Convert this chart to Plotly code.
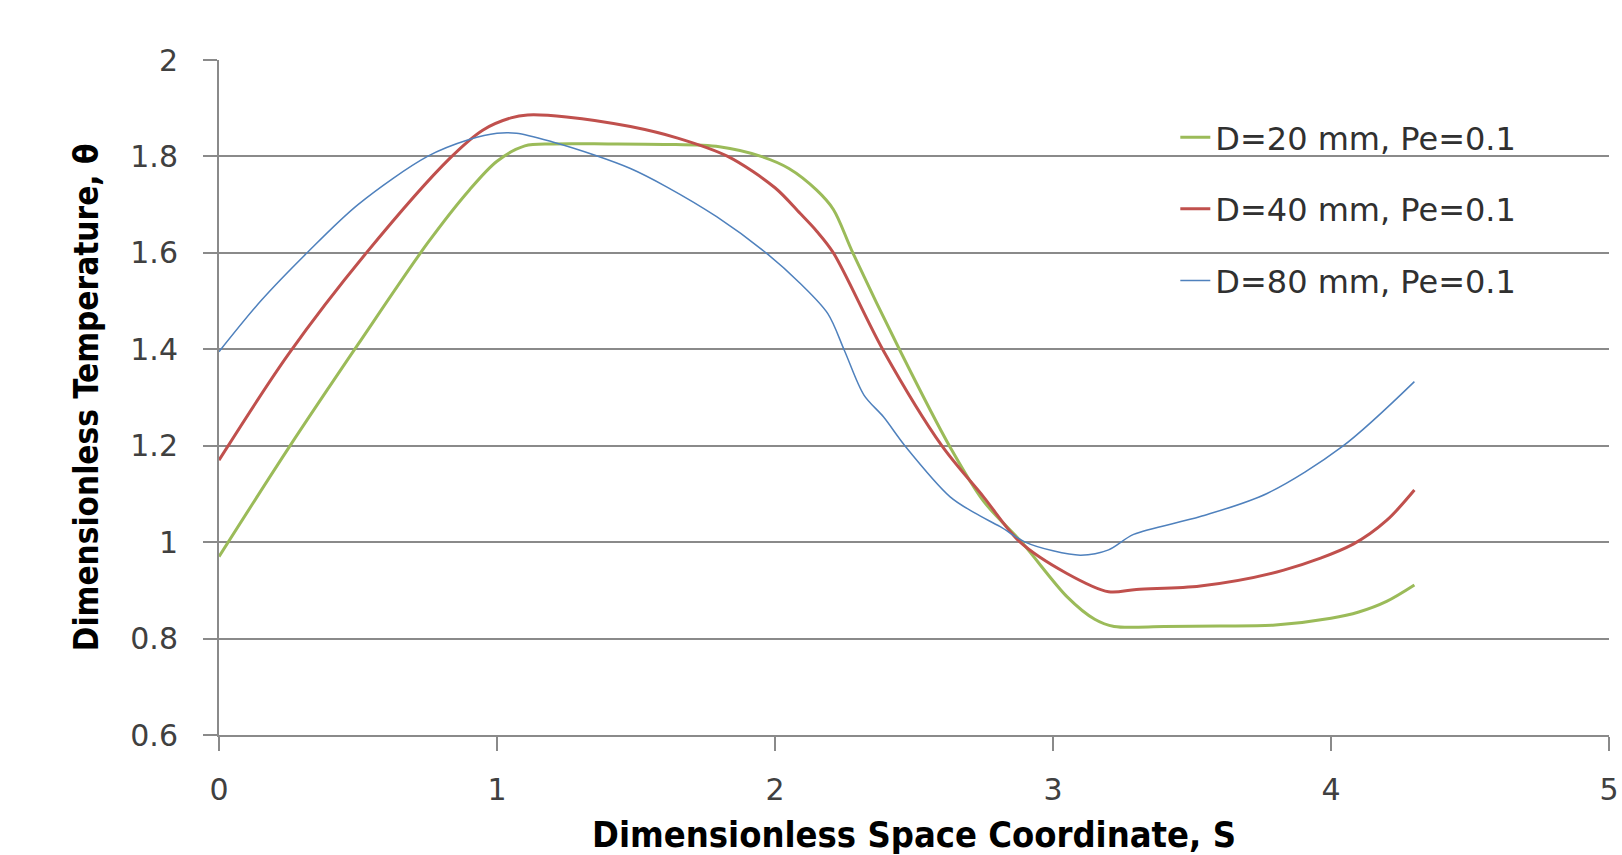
import plotly.graph_objects as go

# ---- data ----
s_20 = [0, 0.25, 0.5, 0.75, 0.9, 1.0, 1.1, 1.2, 1.4, 1.6, 1.8, 1.95, 2.05, 2.15, 2.21,
        2.28, 2.45, 2.63, 2.75, 2.89, 3.05, 3.15, 3.22, 3.4, 3.6, 3.8, 4.0, 4.1, 4.2, 4.3]
t_20 = [0.97, 1.195, 1.41, 1.62, 1.73, 1.79, 1.822, 1.826, 1.826, 1.825, 1.82, 1.80, 1.775,
        1.73, 1.69, 1.60, 1.397, 1.197, 1.085, 0.998, 0.887, 0.84, 0.825, 0.825, 0.826,
        0.828, 0.842, 0.855, 0.877, 0.911]

s_40 = [0, 0.25, 0.53, 0.83, 0.95, 1.05, 1.11, 1.25, 1.48, 1.65, 1.83, 2.0, 2.09, 2.15, 2.21,
        2.39, 2.6, 2.75, 2.88, 3.05, 3.2, 3.3, 3.53, 3.83, 4.08, 4.2, 4.3]
t_40 = [1.17, 1.39, 1.6, 1.796, 1.855, 1.88, 1.886, 1.882, 1.862, 1.838, 1.80, 1.735, 1.682,
        1.645, 1.60, 1.397, 1.2, 1.094, 1.001, 0.935, 0.897, 0.902, 0.909, 0.942, 0.996,
        1.045, 1.108]

s_80 = [0, 0.15, 0.315, 0.5, 0.75, 0.9, 1.0, 1.07, 1.2, 1.35, 1.48, 1.61, 1.79, 1.97, 2.09,
        2.19, 2.25, 2.32, 2.39, 2.47, 2.63, 2.72, 2.81, 2.9, 3.0, 3.1, 3.2, 3.29, 3.53, 3.77,
        4.04, 4.3]
t_80 = [1.395, 1.50, 1.599, 1.70, 1.80, 1.835, 1.848, 1.848, 1.83, 1.803, 1.775, 1.737, 1.675,
        1.599, 1.537, 1.474, 1.397, 1.305, 1.26, 1.198, 1.094, 1.06, 1.032, 1.0, 0.982, 0.973,
        0.984, 1.016, 1.053, 1.101, 1.198, 1.333]

series_names = ["D=20 mm, Pe=0.1", "D=40 mm, Pe=0.1", "D=80 mm, Pe=0.1"]
x_ticks = [0, 1, 2, 3, 4, 5]
y_ticks = [0.6, 0.8, 1, 1.2, 1.4, 1.6, 1.8, 2]
y_tick_text = ["0.6", "0.8", "1", "1.2", "1.4", "1.6", "1.8", "2"]

colors = ["#9bbb59", "#c0504d", "#4f81bd"]
widths = [3, 3, 1.5]

fig = go.Figure()
for i, (xs, ys) in enumerate([(s_20, t_20), (s_40, t_40), (s_80, t_80)]):
    fig.add_trace(go.Scatter(
        x=xs, y=ys, mode="lines", name=series_names[i],
        line=dict(color=colors[i], width=widths[i], shape="spline", smoothing=0.9),
        legendgroup=f"g{i}",
    ))

tick_font = dict(family="DejaVu Sans, sans-serif", size=30, color="#404040")
title_family = "Liberation Sans Narrow, DejaVu Sans Condensed, sans-serif"

fig.update_layout(
    width=1622, height=855,
    margin=dict(l=219, r=13, t=60, b=120),
    paper_bgcolor="white", plot_bgcolor="white",
    showlegend=True,
    legend=dict(
        x=0.688, y=0.926, xanchor="left", yanchor="top",
        font=dict(family="DejaVu Sans, sans-serif", size=32, color="#303030"),
        tracegroupgap=27, bgcolor="rgba(0,0,0,0)", itemwidth=30,
    ),
    xaxis=dict(
        range=[0, 5], tickvals=x_ticks, showgrid=False, zeroline=False, automargin=False,
        showline=True, linecolor="#8a8a8a", linewidth=2,
        ticks="outside", ticklen=14, tickwidth=2, tickcolor="#8a8a8a",
        tickfont=tick_font, ticklabelstandoff=13,
        title=dict(text="<b>Dimensionless Space Coordinate, S</b>",
                   font=dict(family=title_family, size=36, color="#000000"), standoff=22),
    ),
    yaxis=dict(
        range=[0.6, 2], tickvals=y_ticks, ticktext=y_tick_text, automargin=False,
        showgrid=True, gridcolor="#8a8a8a", gridwidth=2, zeroline=False,
        showline=True, linecolor="#8a8a8a", linewidth=2,
        ticks="outside", ticklen=14, tickwidth=2, tickcolor="#8a8a8a",
        tickfont=tick_font, ticklabelstandoff=19,
        title=dict(text="<b>Dimensionless Temperature, θ</b>",
                   font=dict(family=title_family, size=33, color="#000000"), standoff=22),
    ),
)

fig.write_html("out.html")
